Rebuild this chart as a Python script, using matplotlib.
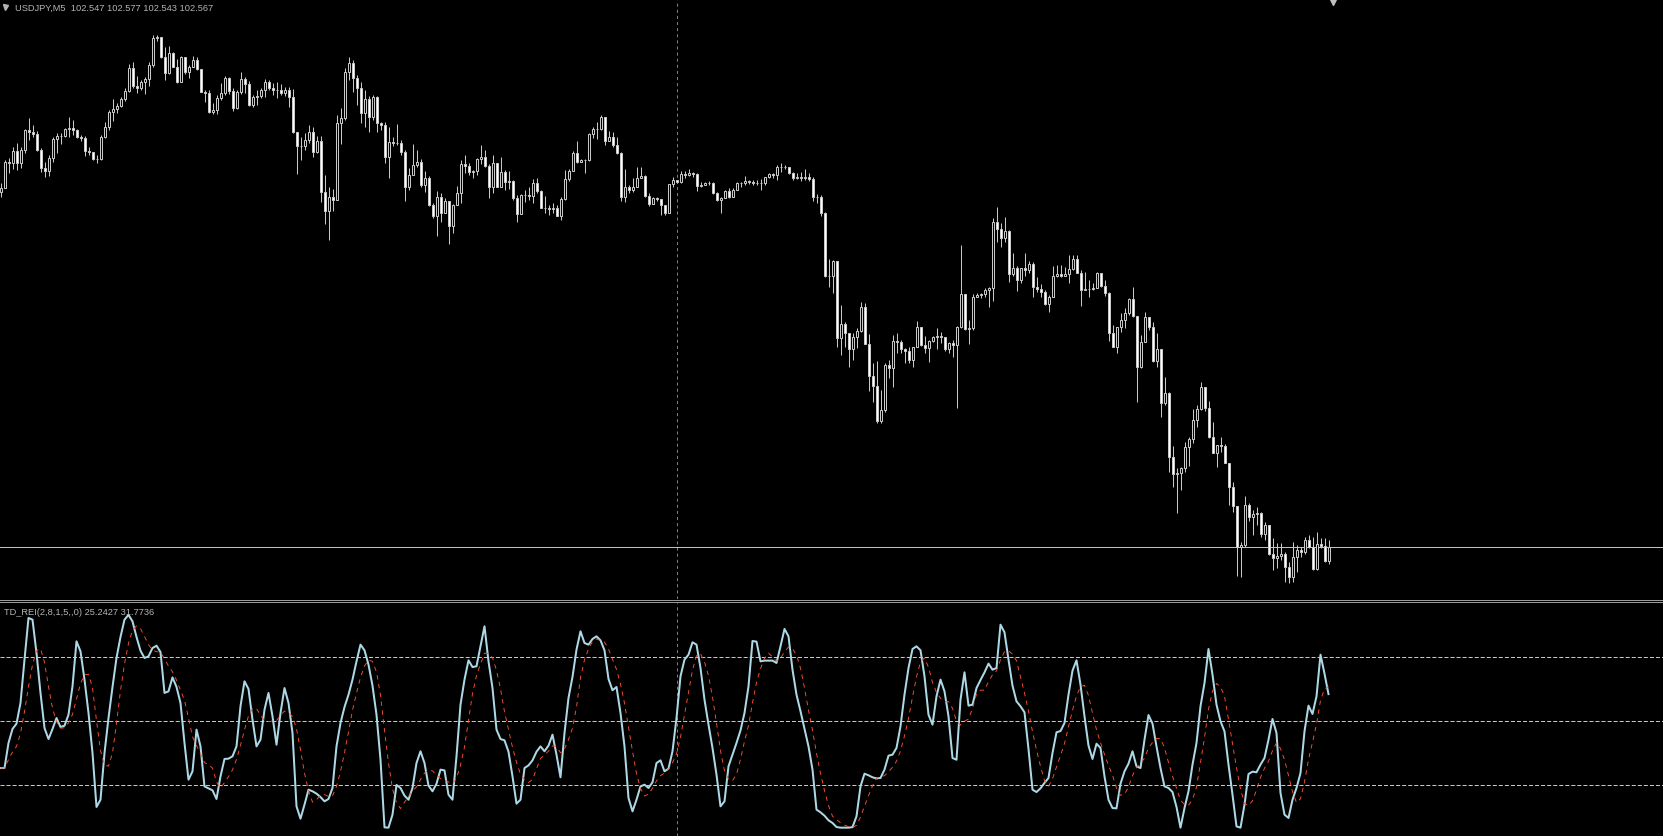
import numpy as np
import pandas as pd
import matplotlib
matplotlib.use("Agg")
import matplotlib.pyplot as plt
from matplotlib.lines import Line2D

# --- Chart texts ---
SYMBOL_LABEL = "USDJPY,M5  102.547 102.577 102.543 102.567"
IND_LABEL = "TD_REI(2,8,1,5,,0) 25.2427 31.7736"

# --- USDJPY M5 candles, open = previous close ---
FIRST_OPEN = 103.064
close = [
    103.070, 103.106, 103.105, 103.122, 103.105, 103.123, 103.151, 103.148, 103.145, 103.123,
    103.098, 103.094, 103.112, 103.138, 103.143, 103.143, 103.152, 103.154, 103.151, 103.141,
    103.140, 103.122, 103.120, 103.110, 103.110, 103.141, 103.155, 103.176, 103.180, 103.185,
    103.194, 103.206, 103.238, 103.213, 103.210, 103.218, 103.222, 103.242, 103.280, 103.281,
    103.253, 103.231, 103.259, 103.239, 103.218, 103.253, 103.232, 103.239, 103.249, 103.236,
    103.204, 103.203, 103.176, 103.179, 103.196, 103.203, 103.224, 103.206, 103.182, 103.204,
    103.222, 103.215, 103.186, 103.197, 103.199, 103.207, 103.218, 103.210, 103.207, 103.207,
    103.203, 103.207, 103.197, 103.148, 103.129, 103.129, 103.137, 103.148, 103.120, 103.136,
    103.064, 103.038, 103.057, 103.053, 103.161, 103.168, 103.232, 103.245, 103.224, 103.210,
    103.175, 103.194, 103.169, 103.197, 103.161, 103.158, 103.113, 103.134, 103.133, 103.133,
    103.120, 103.071, 103.088, 103.102, 103.106, 103.074, 103.084, 103.046, 103.031, 103.057,
    103.035, 103.052, 103.017, 103.046, 103.063, 103.103, 103.101, 103.092, 103.094, 103.110,
    103.113, 103.101, 103.071, 103.105, 103.071, 103.092, 103.078, 103.080, 103.056, 103.033,
    103.060, 103.060, 103.059, 103.077, 103.066, 103.042, 103.042, 103.040, 103.042, 103.031,
    103.054, 103.082, 103.094, 103.119, 103.106, 103.109, 103.109, 103.145, 103.152, 103.152,
    103.169, 103.136, 103.141, 103.130, 103.119, 103.057, 103.071, 103.067, 103.071, 103.084,
    103.087, 103.059, 103.047, 103.056, 103.054, 103.046, 103.035, 103.075, 103.081, 103.078,
    103.089, 103.088, 103.091, 103.089, 103.073, 103.074, 103.077, 103.077, 103.063, 103.053,
    103.056, 103.066, 103.057, 103.067, 103.077, 103.077, 103.080, 103.078, 103.077, 103.077,
    103.077, 103.085, 103.089, 103.088, 103.099, 103.099, 103.099, 103.091, 103.084, 103.085,
    103.084, 103.085, 103.082, 103.057, 103.057, 103.035, 102.947, 102.947, 102.968, 102.860,
    102.879, 102.867, 102.844, 102.861, 102.870, 102.903, 102.851, 102.807, 102.793, 102.744,
    102.759, 102.822, 102.818, 102.856, 102.854, 102.844, 102.842, 102.829, 102.847, 102.875,
    102.850, 102.846, 102.856, 102.861, 102.863, 102.861, 102.844, 102.853, 102.850, 102.875,
    102.921, 102.872, 102.874, 102.917, 102.920, 102.921, 102.927, 102.930, 103.022, 103.012,
    103.000, 103.010, 102.949, 102.958, 102.941, 102.958, 102.955, 102.963, 102.931, 102.928,
    102.924, 102.907, 102.917, 102.947, 102.949, 102.947, 102.949, 102.956, 102.970, 102.951,
    102.927, 102.928, 102.928, 102.930, 102.951, 102.933, 102.923, 102.867, 102.847, 102.875,
    102.885, 102.895, 102.914, 102.891, 102.819, 102.854, 102.889, 102.875, 102.828, 102.844,
    102.769, 102.783, 102.693, 102.669, 102.671, 102.678, 102.707, 102.718, 102.745, 102.760,
    102.791, 102.762, 102.721, 102.699, 102.710, 102.709, 102.685, 102.651, 102.625, 102.567,
    102.570, 102.626, 102.609, 102.613, 102.615, 102.585, 102.598, 102.557, 102.552, 102.555,
    102.557, 102.539, 102.525, 102.553, 102.563, 102.560, 102.577, 102.567, 102.536, 102.571,
    102.569, 102.547, 102.567,
]
high = [
    103.077, 103.109, 103.112, 103.127, 103.133, 103.127, 103.152, 103.168, 103.158, 103.150,
    103.126, 103.106, 103.116, 103.141, 103.147, 103.147, 103.154, 103.169, 103.165, 103.152,
    103.144, 103.143, 103.127, 103.120, 103.116, 103.144, 103.162, 103.179, 103.194, 103.189,
    103.197, 103.210, 103.243, 103.246, 103.227, 103.221, 103.225, 103.246, 103.284, 103.284,
    103.281, 103.267, 103.269, 103.260, 103.250, 103.255, 103.253, 103.242, 103.255, 103.253,
    103.236, 103.207, 103.207, 103.189, 103.200, 103.217, 103.227, 103.225, 103.210, 103.207,
    103.232, 103.225, 103.220, 103.200, 103.207, 103.210, 103.222, 103.221, 103.217, 103.218,
    103.215, 103.211, 103.211, 103.208, 103.148, 103.141, 103.147, 103.158, 103.155, 103.143,
    103.143, 103.088, 103.071, 103.068, 103.172, 103.182, 103.238, 103.253, 103.249, 103.228,
    103.218, 103.207, 103.199, 103.200, 103.199, 103.162, 103.162, 103.155, 103.141, 103.159,
    103.137, 103.123, 103.098, 103.131, 103.123, 103.110, 103.094, 103.087, 103.049, 103.066,
    103.063, 103.056, 103.052, 103.047, 103.073, 103.109, 103.116, 103.105, 103.095, 103.112,
    103.130, 103.123, 103.103, 103.116, 103.105, 103.113, 103.095, 103.094, 103.081, 103.060,
    103.061, 103.067, 103.071, 103.082, 103.084, 103.067, 103.059, 103.046, 103.049, 103.046,
    103.057, 103.095, 103.096, 103.122, 103.136, 103.110, 103.110, 103.147, 103.155, 103.162,
    103.172, 103.168, 103.150, 103.148, 103.141, 103.120, 103.096, 103.074, 103.084, 103.099,
    103.099, 103.088, 103.063, 103.057, 103.057, 103.054, 103.046, 103.075, 103.085, 103.081,
    103.094, 103.094, 103.096, 103.092, 103.091, 103.078, 103.078, 103.080, 103.078, 103.064,
    103.057, 103.067, 103.070, 103.070, 103.078, 103.078, 103.087, 103.081, 103.081, 103.081,
    103.082, 103.085, 103.091, 103.091, 103.102, 103.105, 103.102, 103.099, 103.092, 103.091,
    103.092, 103.096, 103.091, 103.085, 103.061, 103.060, 103.036, 102.970, 102.969, 102.968,
    102.906, 102.882, 102.867, 102.867, 102.874, 102.910, 102.909, 102.865, 102.825, 102.828,
    102.787, 102.825, 102.829, 102.864, 102.867, 102.857, 102.846, 102.847, 102.847, 102.884,
    102.875, 102.863, 102.857, 102.863, 102.874, 102.868, 102.861, 102.854, 102.857, 102.877,
    102.990, 102.921, 102.885, 102.921, 102.923, 102.923, 102.930, 102.931, 103.028, 103.043,
    103.021, 103.029, 103.011, 102.979, 102.961, 102.958, 102.979, 102.968, 102.966, 102.945,
    102.935, 102.927, 102.920, 102.961, 102.962, 102.962, 102.959, 102.976, 102.976, 102.976,
    102.955, 102.952, 102.941, 102.937, 102.952, 102.951, 102.941, 102.924, 102.878, 102.875,
    102.895, 102.902, 102.916, 102.931, 102.891, 102.864, 102.896, 102.889, 102.882, 102.867,
    102.843, 102.805, 102.784, 102.709, 102.678, 102.679, 102.714, 102.721, 102.760, 102.766,
    102.798, 102.791, 102.772, 102.742, 102.710, 102.721, 102.711, 102.685, 102.658, 102.615,
    102.574, 102.639, 102.629, 102.619, 102.623, 102.616, 102.602, 102.594, 102.580, 102.573,
    102.573, 102.560, 102.546, 102.574, 102.570, 102.567, 102.581, 102.584, 102.581, 102.588,
    102.580, 102.580, 102.577,
]
low = [
    103.057, 103.070, 103.091, 103.096, 103.095, 103.098, 103.119, 103.137, 103.141, 103.122,
    103.092, 103.085, 103.087, 103.106, 103.119, 103.131, 103.141, 103.141, 103.144, 103.140,
    103.136, 103.115, 103.116, 103.109, 103.105, 103.109, 103.140, 103.151, 103.164, 103.175,
    103.183, 103.192, 103.204, 103.210, 103.203, 103.207, 103.201, 103.213, 103.239, 103.276,
    103.252, 103.221, 103.229, 103.239, 103.217, 103.220, 103.229, 103.224, 103.239, 103.235,
    103.204, 103.190, 103.175, 103.173, 103.173, 103.193, 103.200, 103.201, 103.178, 103.180,
    103.201, 103.203, 103.185, 103.183, 103.186, 103.196, 103.197, 103.207, 103.200, 103.196,
    103.200, 103.199, 103.183, 103.147, 103.089, 103.109, 103.123, 103.133, 103.113, 103.119,
    103.050, 103.019, 102.997, 103.038, 103.053, 103.131, 103.165, 103.221, 103.204, 103.186,
    103.161, 103.155, 103.148, 103.165, 103.148, 103.151, 103.105, 103.084, 103.129, 103.130,
    103.116, 103.052, 103.067, 103.088, 103.099, 103.071, 103.064, 103.045, 103.028, 103.003,
    103.022, 103.035, 102.991, 103.007, 103.049, 103.049, 103.091, 103.088, 103.084, 103.088,
    103.103, 103.099, 103.056, 103.063, 103.071, 103.071, 103.067, 103.068, 103.053, 103.022,
    103.035, 103.050, 103.053, 103.049, 103.063, 103.042, 103.035, 103.032, 103.035, 103.031,
    103.025, 103.053, 103.080, 103.094, 103.105, 103.106, 103.091, 103.108, 103.140, 103.138,
    103.151, 103.130, 103.136, 103.127, 103.117, 103.052, 103.050, 103.063, 103.064, 103.071,
    103.085, 103.057, 103.045, 103.047, 103.052, 103.032, 103.032, 103.035, 103.071, 103.077,
    103.077, 103.084, 103.087, 103.085, 103.066, 103.071, 103.074, 103.074, 103.061, 103.052,
    103.035, 103.057, 103.056, 103.057, 103.067, 103.071, 103.074, 103.075, 103.074, 103.074,
    103.067, 103.074, 103.084, 103.084, 103.081, 103.092, 103.096, 103.089, 103.081, 103.082,
    103.080, 103.081, 103.080, 103.052, 103.049, 103.031, 102.945, 102.931, 102.923, 102.847,
    102.836, 102.847, 102.819, 102.829, 102.846, 102.868, 102.851, 102.786, 102.770, 102.741,
    102.741, 102.756, 102.804, 102.791, 102.839, 102.839, 102.825, 102.825, 102.819, 102.847,
    102.849, 102.839, 102.826, 102.854, 102.844, 102.853, 102.842, 102.839, 102.833, 102.762,
    102.874, 102.871, 102.851, 102.871, 102.917, 102.916, 102.917, 102.903, 102.912, 102.994,
    102.987, 102.994, 102.938, 102.947, 102.926, 102.937, 102.947, 102.951, 102.917, 102.924,
    102.917, 102.906, 102.896, 102.919, 102.945, 102.945, 102.947, 102.937, 102.955, 102.951,
    102.905, 102.927, 102.917, 102.927, 102.930, 102.931, 102.919, 102.856, 102.847, 102.839,
    102.868, 102.874, 102.892, 102.889, 102.770, 102.818, 102.854, 102.871, 102.826, 102.819,
    102.749, 102.766, 102.672, 102.651, 102.615, 102.647, 102.672, 102.681, 102.713, 102.735,
    102.759, 102.758, 102.720, 102.699, 102.679, 102.700, 102.685, 102.626, 102.616, 102.527,
    102.525, 102.567, 102.604, 102.584, 102.598, 102.581, 102.577, 102.556, 102.535, 102.538,
    102.549, 102.518, 102.517, 102.518, 102.532, 102.553, 102.557, 102.566, 102.535, 102.535,
    102.566, 102.546, 102.543,
]

# --- TD REI values, one per bar ---
rei = [
    -44.1, -44.1, -20.6, -7.5, -2.5, 16.9, 57.5, 96.6, 95.0, 63.8,
    26.3, -6.6, -16.9, -7.5, 2.8, -5.6, -4.4, 5.9, 32.5, 74.7,
    65.3, 38.8, 7.5, -30.0, -80.6, -73.8, -30.0, 2.8, 31.9, 59.1,
    78.8, 95.0, 99.5, 93.4, 78.8, 65.9, 59.1, 60.6, 68.4, 70.6,
    64.7, 26.3, 27.8, 40.9, 31.9, 16.9, -20.6, -55.0, -47.2, -8.1,
    -23.8, -61.3, -63.1, -65.0, -73.1, -51.9, -35.6, -35.3, -33.1, -23.8,
    13.8, 37.2, 30.0, 1.3, -23.8, -17.5, 10.6, 26.3, 4.4, -22.2,
    7.5, 30.9, 16.9, -11.3, -80.0, -91.6, -78.4, -64.4, -65.9, -68.1,
    -71.3, -75.3, -73.1, -62.8, -23.8, -1.9, 13.1, 24.7, 38.8, 55.9,
    71.6, 66.3, 52.8, 33.1, 5.9, -36.3, -99.7, -100.0, -87.8, -60.0,
    -62.8, -70.0, -73.8, -62.8, -39.4, -28.4, -39.4, -60.6, -65.9, -58.8,
    -45.6, -46.3, -69.1, -73.8, -33.1, 15.3, 38.8, 56.9, 50.6, 51.3,
    70.0, 88.8, 55.9, 30.9, -8.1, -16.9, -18.1, -28.8, -51.9, -77.5,
    -73.8, -44.1, -41.6, -36.9, -28.8, -23.8, -28.4, -23.1, -12.8, -31.6,
    -52.8, -11.3, 21.6, 41.3, 66.9, 84.1, 73.1, 71.6, 76.9, 79.4,
    75.6, 66.3, 39.4, 28.8, 31.9, 7.5, -23.8, -72.2, -84.7, -73.8,
    -61.3, -59.7, -62.8, -57.5, -39.4, -36.9, -47.2, -44.7, -28.4, 2.8,
    41.9, 57.5, 62.2, 73.8, 71.6, 49.7, 20.0, -3.4, -25.3, -50.3,
    -80.0, -75.3, -42.5, -31.6, -20.6, -8.8, 7.5, 32.5, 75.0, 74.4,
    55.9, 56.6, 56.6, 56.6, 54.4, 70.0, 86.3, 79.4, 48.1, 24.7,
    9.1, -7.5, -23.8, -45.6, -83.1, -85.6, -88.8, -93.1, -95.6, -99.4,
    -100.0, -100.0, -100.0, -99.5, -89.4, -61.3, -49.4, -50.9, -52.8, -53.8,
    -53.4, -45.6, -32.5, -31.6, -25.3, -5.0, 24.7, 49.7, 67.5, 70.0,
    66.3, 41.9, 5.9, -3.4, 23.1, 38.8, 27.8, 4.4, -34.7, -36.3,
    20.0, 45.6, 14.4, 15.3, 30.9, 38.4, 45.6, 53.8, 48.1, 49.7,
    90.3, 83.1, 57.5, 33.1, 18.4, 13.8, 8.1, -26.3, -64.4, -66.6,
    -63.1, -58.1, -53.4, -30.0, -10.6, -9.4, -1.9, 24.7, 47.2, 56.9,
    34.1, 4.4, -23.1, -35.6, -21.3, -25.3, -51.9, -73.8, -81.6, -81.9,
    -58.8, -47.2, -40.0, -28.4, -42.5, -44.1, -17.5, 5.6, -2.5, -23.8,
    -44.1, -61.3, -62.8, -66.6, -80.6, -100.0, -81.6, -65.9, -40.9, -20.6,
    13.8, 35.6, 67.5, 43.4, 15.3, -0.3, -9.7, -40.9, -69.1, -98.8,
    -100.0, -78.4, -49.7, -47.5, -48.1, -40.9, -34.7, -17.5, 1.9, -11.3,
    -67.5, -87.8, -90.9, -73.8, -62.8, -48.8, -9.7, 14.4, 6.6, 23.1,
    62.2, 44.4, 25.2,
]
LEVELS = [60, 0, -60]
SIGNAL_PERIOD = 5     # last parameter group of TD_REI(2,8,1,5,,0)
CURSOR_BAR = 169      # bar under the crosshair

# --- Look ---
W, H = 1663, 836
BG = "black"
EDGE = "#c8c8c8"
TXT = "#b4b4b4"
PX = 0.72  # one pixel in points at dpi 100
plt.rcParams["lines.scale_dashes"] = False

fig = plt.figure(figsize=(W / 100, H / 100), dpi=100, facecolor=BG)

# price window: pixel rows 0..599, indicator window: 603..836
PRICE_BOTTOM_PX = 599
IND_TOP_PX = 603
ax = fig.add_axes([0, 1 - PRICE_BOTTOM_PX / H, 1, PRICE_BOTTOM_PX / H])
ax2 = fig.add_axes([0, 0, 1, (H - IND_TOP_PX) / H])
for a in (ax, ax2):
    a.set_facecolor(BG)
    a.set_xlim(-0.125, W / 4 - 0.125)   # one bar every 4 pixels
    a.axis("off")

# price scale: 0.0014 per pixel, close 102.567 at row 547
ax.set_ylim(103.333 - 0.0014 * PRICE_BOTTOM_PX, 103.333)
# indicator scale: 0 at row 721, 60 per 64 pixels
ax2.set_ylim((721 - H) * 60 / 64, (721 - IND_TOP_PX) * 60 / 64)

# --- candles ---
c = np.array(close)
o = np.array([FIRST_OPEN] + close[:-1])
h = np.array(high)
l = np.array(low)
x = np.arange(len(c))
top = np.maximum(np.maximum(o, c), h)
bot = np.minimum(np.minimum(o, c), l)
ax.vlines(x, bot, top, colors=EDGE, linewidth=PX, zorder=2)
up = c > o
ax.bar(x, np.abs(c - o), bottom=np.minimum(o, c), width=0.5,
       color=np.where(up, "black", "white"), edgecolor=EDGE,
       linewidth=PX, zorder=3)

# bid line at last close
ax.axhline(close[-1], color="#c0c0c0", linewidth=PX, zorder=1)

# --- TD REI window ---
signal = pd.Series(rei).rolling(SIGNAL_PERIOD, min_periods=1).mean()
for lv in LEVELS:
    ax2.axhline(lv, color="#c8c8c8", linewidth=PX, linestyle=(0, (2.9, 1.45)), zorder=1)
ax2.plot(x, rei, color="#add8e6", linewidth=1.45, zorder=3)
ax2.plot(x, signal, color="#ff5030", linewidth=0.65, linestyle=(0, (3.2, 3.2)), zorder=4)

# crosshair
for a in (ax, ax2):
    a.axvline(CURSOR_BAR, color="#808080", linewidth=PX, linestyle=(0, (2.2, 2.2)), zorder=0)

# window separator
for yy in (599.5, 601.5):
    fig.add_artist(Line2D([0, 1], [1 - yy / H] * 2, color="#9a9a9a",
                          linewidth=PX, transform=fig.transFigure))

# --- labels ---
fig.text(15 / W, 1 - 11 / H, SYMBOL_LABEL, fontsize=6.7, family="Liberation Sans",
         color=TXT, va="baseline", ha="left")
fig.add_artist(Line2D([5 / W], [1 - 7 / H], marker="v", markersize=3.6, color=TXT,
                      linestyle="none", transform=fig.transFigure))
fig.text(4 / W, 1 - 615 / H, IND_LABEL, fontsize=6.7, family="Liberation Sans",
         color=TXT, va="baseline", ha="left")
# chart shift marker at the top edge
fig.add_artist(Line2D([1333 / W], [1 - 1 / H], marker="v", markersize=5.5, color="#c0c0c0",
                      linestyle="none", transform=fig.transFigure))

fig.savefig("out.png", dpi=100, facecolor=BG)
